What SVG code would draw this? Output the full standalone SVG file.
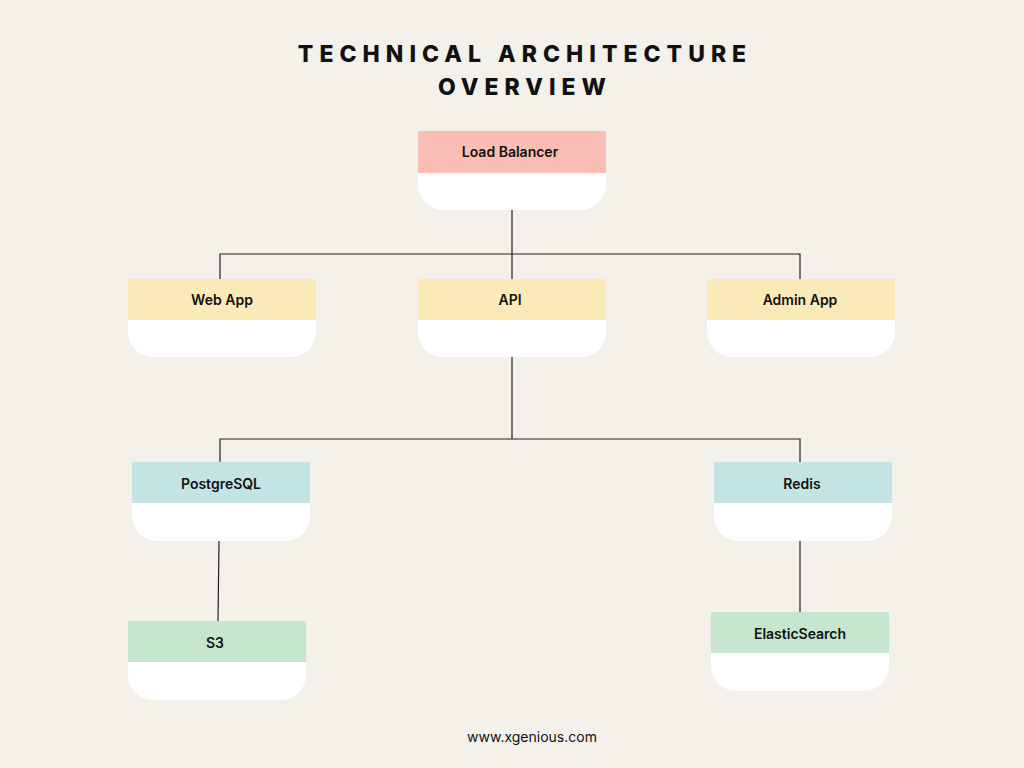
<svg xmlns="http://www.w3.org/2000/svg" width="1024" height="768" viewBox="0 0 1024 768">
<style>
.t{font-family:Inter,"Liberation Sans",sans-serif;font-size:14px;font-weight:600;fill:#111;text-anchor:middle}
.h{font-family:Inter,"Liberation Sans",sans-serif;font-size:23px;font-weight:800;fill:#111;text-anchor:middle;letter-spacing:6px}
.b{fill:#fff}
.c{stroke:#222;stroke-width:1.2;fill:none}
</style>
<rect width="1024" height="768" fill="#f4f0ea"/>
<text class="h" x="525" y="62">TECHNICAL ARCHITECTURE</text>
<text class="h" x="525" y="95">OVERVIEW</text>
<g id="connectors">
<path class="c" d="M512 210V279M220 279V254H800V279"/>
<path class="c" d="M512 357V439M220 462V439H800V462"/>
<path class="c" d="M219 541L218 621"/>
<path class="c" d="M800 541V612"/>
</g>
<g id="lb"><path class="b" d="M418 173H606V185A25 25 0 0 1 581 210H443A25 25 0 0 1 418 185Z"/><rect x="418" y="131" width="188" height="42" fill="#f9bdb4"/><text class="t" x="510" y="157">Load Balancer</text></g>
<g id="web"><path class="b" d="M128 320H316V332A25 25 0 0 1 291 357H153A25 25 0 0 1 128 332Z"/><rect x="128" y="279" width="188" height="41" fill="#faeab8"/><text class="t" x="222" y="305">Web App</text></g>
<g id="api"><path class="b" d="M418 320H606V332A25 25 0 0 1 581 357H443A25 25 0 0 1 418 332Z"/><rect x="418" y="279" width="188" height="41" fill="#faeab8"/><text class="t" x="510" y="305">API</text></g>
<g id="admin"><path class="b" d="M707 320H895V332A25 25 0 0 1 870 357H732A25 25 0 0 1 707 332Z"/><rect x="707" y="279" width="188" height="41" fill="#faeab8"/><text class="t" x="800" y="305">Admin App</text></g>
<g id="pg"><path class="b" d="M132 503H310V516A25 25 0 0 1 285 541H157A25 25 0 0 1 132 516Z"/><rect x="132" y="462" width="178" height="41" fill="#c3e4e4"/><text class="t" x="221" y="489">PostgreSQL</text></g>
<g id="redis"><path class="b" d="M714 503H892V516A25 25 0 0 1 867 541H739A25 25 0 0 1 714 516Z"/><rect x="714" y="462" width="178" height="41" fill="#c3e4e4"/><text class="t" x="802" y="489">Redis</text></g>
<g id="s3"><path class="b" d="M128 662H306V675A25 25 0 0 1 281 700H153A25 25 0 0 1 128 675Z"/><rect x="128" y="621" width="178" height="41" fill="#c5e6cd"/><text class="t" x="215" y="648">S3</text></g>
<g id="es"><path class="b" d="M711 653H889V666A25 25 0 0 1 864 691H736A25 25 0 0 1 711 666Z"/><rect x="711" y="612" width="178" height="41" fill="#c5e6cd"/><text class="t" x="800" y="639">ElasticSearch</text></g>
<text x="532" y="742" style="font-family:Inter,'Liberation Sans',sans-serif;font-size:14px;fill:#111;text-anchor:middle">www.xgenious.com</text>
</svg>
